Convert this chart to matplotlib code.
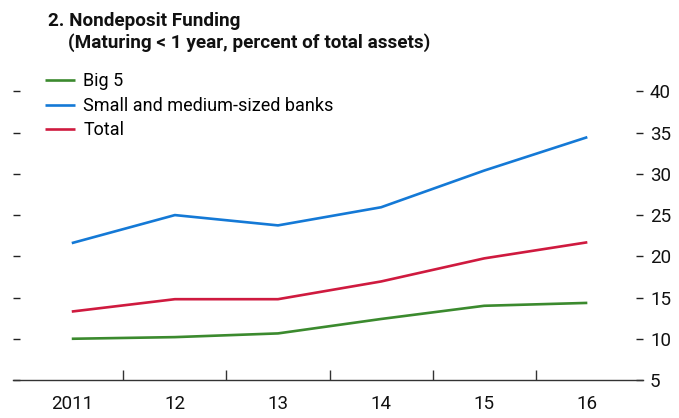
import matplotlib
matplotlib.use("Agg")
import matplotlib.pyplot as plt
from matplotlib.ticker import FixedLocator

plt.rcParams['font.family'] = ['Roboto', 'DejaVu Sans']

years = ["2011", "12", "13", "14", "15", "16"]
big5 = [10.0, 10.2, 10.65, 12.4, 14.0, 14.35]
small_medium = [21.6, 25.0, 23.75, 25.95, 30.4, 34.45]
total = [13.3, 14.8, 14.8, 16.95, 19.75, 21.7]
series_labels = ["Big 5", "Small and medium-sized banks", "Total"]
series_colors = ["#3b8a2e", "#1479d6", "#cf1a3f"]
yticks = [5, 10, 15, 20, 25, 30, 35, 40]

W, H = 679, 418
fig = plt.figure(figsize=(W / 100, H / 100), dpi=100)
ax = fig.add_axes([13 / W, 1 - 380 / H, (643 - 13) / W, (380 - 91.4) / H])

x = list(range(len(years)))
handles = []
for vals, lab, col in zip([big5, small_medium, total], series_labels, series_colors):
    h, = ax.plot(x, vals, color=col, lw=1.9, label=lab, solid_capstyle='butt')
    handles.append(h)

ax.set_xlim(-0.57, len(years) - 1 + 0.54)
ax.set_ylim(yticks[0], yticks[-1])

for s in ['left', 'top', 'right']:
    ax.spines[s].set_visible(False)
ax.spines['bottom'].set_color('#333333')
ax.spines['bottom'].set_linewidth(1.0)

# x axis
ax.set_xticks(x)
ax.set_xticklabels(years, fontsize=13.5)
ax.tick_params(axis='x', which='major', length=0, pad=11, colors='#111111')
ax.xaxis.set_minor_locator(FixedLocator([i + 0.5 for i in range(len(years) - 1)]))
ax.tick_params(axis='x', which='minor', direction='in', length=7.5, width=1.0, color='#333333')

# y axis: ticks both sides, labels right
ax.set_yticks(yticks)
ax.yaxis.set_ticks_position('both')
ax.tick_params(axis='y', which='major', direction='in', length=5, width=1.0,
               labelleft=False, labelright=True, left=True, right=True,
               labelsize=13.5, pad=5, color='#222222', labelcolor='#111111')
for t in ax.yaxis.get_major_ticks():
    if t.get_loc() == yticks[0]:
        t.tick1line.set_visible(False)
        t.tick2line.set_visible(False)

leg = fig.legend(handles=handles, labels=series_labels, loc='upper left',
                 bbox_to_anchor=(40 / W, 1 - 67 / H), frameon=False,
                 fontsize=13, handlelength=1.65, handletextpad=0.45,
                 labelspacing=0.36, borderaxespad=0, borderpad=0.3)

fig.text(48 / W, 1 - 26 / H, "2. Nondeposit Funding", fontsize=13.6, fontweight='bold',
         ha='left', va='baseline', color='#111111')
fig.text(68 / W, 1 - 47.5 / H, "(Maturing < 1 year, percent of total assets)", fontsize=13.6,
         fontweight='bold', ha='left', va='baseline', color='#111111')

fig.savefig("out.png", dpi=100)
